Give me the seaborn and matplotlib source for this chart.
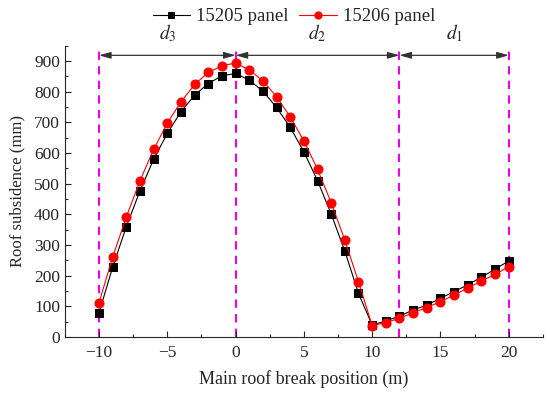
import numpy as np
import pandas as pd
import matplotlib
matplotlib.use('Agg')
import matplotlib.pyplot as plt
import seaborn as sns
from matplotlib.ticker import MultipleLocator

# ---- data ----
position = list(range(-10, 21))
panel_15205 = [79, 228, 360, 477, 580, 664, 735, 789, 827, 852, 860,
               838, 802, 749, 684, 604, 510, 401, 280, 142, 39,
               52, 68, 88, 104, 126, 148, 170, 195, 221, 248]
panel_15206 = [112, 261, 392, 510, 612, 698, 767, 824, 863, 885, 894,
               871, 836, 784, 718, 640, 547, 438, 316, 180, 37,
               47, 61, 79, 96, 115, 137, 159, 183, 204, 229]
series_names = ['15205 panel', '15206 panel']
zone_bounds = [-10, 0, 12, 20]
zone_labels = ['$d_3$', '$d_2$', '$d_1$']

sns.set_style('ticks')
plt.rcParams['font.family'] = ['Liberation Serif', 'DejaVu Serif']
plt.rcParams['mathtext.fontset'] = 'stix'
plt.rcParams['xtick.direction'] = 'in'
plt.rcParams['ytick.direction'] = 'in'

fig = plt.figure(figsize=(5.5, 3.95), dpi=100)
ax = fig.add_axes([0.118, 0.147, 0.869, 0.737])

sns.lineplot(x=position, y=panel_15205, ax=ax, color='black', lw=0.8,
             marker='s', markersize=5.5, markeredgecolor='black',
             label=series_names[0])
sns.lineplot(x=position, y=panel_15206, ax=ax, color='red', lw=0.8,
             marker='o', markersize=6.5, markeredgecolor='red',
             label=series_names[1])

ax.set_xlim(-12.5, 22.5)
ax.set_ylim(0, 950)
ax.xaxis.set_major_locator(MultipleLocator(5))
ax.xaxis.set_minor_locator(MultipleLocator(2.5))
ax.yaxis.set_major_locator(MultipleLocator(100))
ax.yaxis.set_minor_locator(MultipleLocator(50))
ax.tick_params(which='major', length=4, width=0.8, labelsize=12.5)
ax.tick_params(axis='x', which='major', pad=6)
ax.tick_params(which='minor', length=2, width=0.8)
sns.despine(ax=ax)

ax.set_xlabel('Main roof break position (m)', fontsize=13, labelpad=6)
ax.set_ylabel('Roof subsidence (mm)', fontsize=12, labelpad=6)

# zone boundaries and double arrows
for xb in zone_bounds:
    ax.axvline(xb, color='#ee00ee', ls=(0, (4, 3)), lw=1.5, zorder=0)
for i, lab in enumerate(zone_labels):
    x0, x1 = zone_bounds[i], zone_bounds[i + 1]
    ax.annotate('', xy=(x0, 919), xytext=(x1, 919),
                arrowprops=dict(arrowstyle='<|-|>,head_length=0.7,head_width=0.2',
                                color='#333333', lw=0.9, shrinkA=0, shrinkB=0))
    ax.text((x0 + x1) / 2, 990, lab, ha='center', va='center',
            fontsize=14, clip_on=False)

ax.get_legend().remove()
handles, labels = ax.get_legend_handles_labels()
fig.legend(handles, labels, loc='center', bbox_to_anchor=(0.534, 0.958),
           ncol=2, frameon=False, fontsize=13.5, handlelength=2.0,
           columnspacing=0.6, handletextpad=0.3, markerscale=0.8)

fig.savefig('out.png', dpi=100)
